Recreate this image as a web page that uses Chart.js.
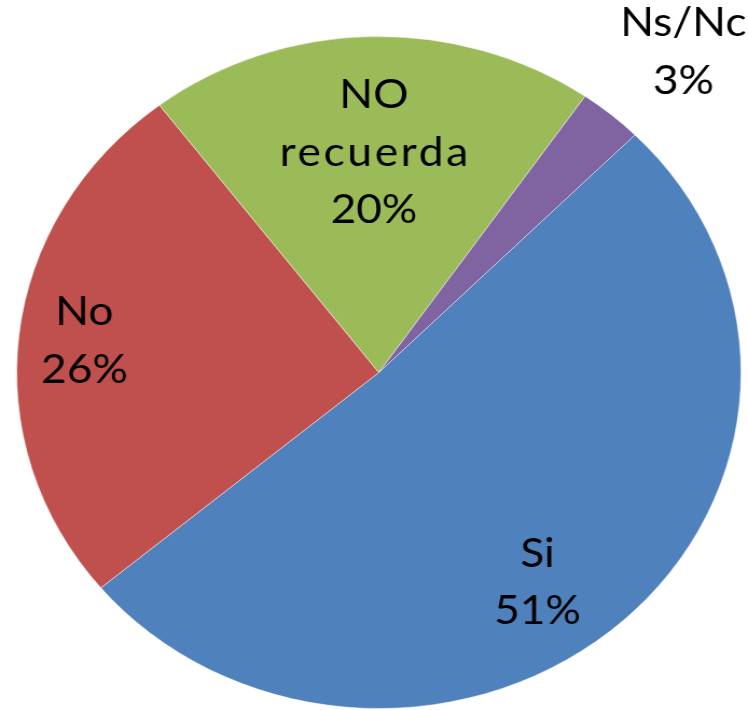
<!DOCTYPE html>
<html>
<head>
<meta charset="utf-8">
<script src="https://cdn.jsdelivr.net/npm/chart.js@4.4.1/dist/chart.umd.min.js"></script>
<style>
  html, body { margin: 0; padding: 0; background: #ffffff; overflow: hidden; }
  #wrap { width: 694px; height: 710px; transform-origin: 0 0; transform: scaleX(1.0778); }
  canvas { display: block; }
</style>
</head>
<body>
<div id="wrap"><canvas id="c" width="694" height="710"></canvas></div>
<script>
// ---- data ----
const categories = ['Si', 'No', 'NO recuerda', 'Ns/Nc'];
const counts = [18, 9, 7, 1];
const colors = ['#4F81BD', '#C0504D', '#9BBB59', '#8064A2'];

// label placement (radius factor, angular shift in degrees) - styling only
const labelRadius = [0.759, 0.819, 0.659, 1.275];
const labelShift = [7.2, 0.5, 0.1, 1.4];

const total = counts.reduce((a, b) => a + b, 0);

const labelPlugin = {
  id: 'pieLabels',
  afterDatasetsDraw(chart) {
    const ctx = chart.ctx;
    const meta = chart.getDatasetMeta(0);
    ctx.save();
    ctx.fillStyle = '#000000';
    ctx.textAlign = 'center';
    ctx.textBaseline = 'alphabetic';
    ctx.font = '41px Lato';
    const lineH = 57.5;
    const capH = 29;
    meta.data.forEach((arc, i) => {
      const p = arc.getProps(['x', 'y', 'startAngle', 'endAngle', 'outerRadius'], true);
      const mid = (p.startAngle + p.endAngle) / 2 + labelShift[i] * Math.PI / 180;
      const r = p.outerRadius * labelRadius[i];
      const cx = p.x + Math.cos(mid) * r;
      const cy = p.y + Math.sin(mid) * r;
      const pct = Math.round(counts[i] / total * 100) + '%';
      const lines = categories[i].split(' ').concat([pct]);
      const blockH = capH + (lines.length - 1) * lineH;
      let y = cy - blockH / 2 + capH;
      lines.forEach(t => {
        // lowercase words in the reference font are set a little wider
        const sp = /^[a-z]+$/.test(t) ? 2.5 : 0;
        ctx.letterSpacing = sp + 'px';
        ctx.fillText(t, cx + sp / 2, y);
        y += lineH;
      });
    });
    ctx.restore();
  }
};

new Chart(document.getElementById('c'), {
  type: 'pie',
  data: {
    labels: categories,
    datasets: [{
      data: counts,
      backgroundColor: colors,
      borderColor: 'rgba(255,255,255,0.45)',
      borderWidth: 1,
      hoverOffset: 0
    }]
  },
  options: {
    responsive: false,
    animation: false,
    rotation: 45,
    layout: { padding: { left: 15, right: 6, top: 36, bottom: 1 } },
    plugins: {
      legend: { display: false },
      tooltip: { enabled: false }
    }
  },
  plugins: [labelPlugin]
});
</script>
</body>
</html>
